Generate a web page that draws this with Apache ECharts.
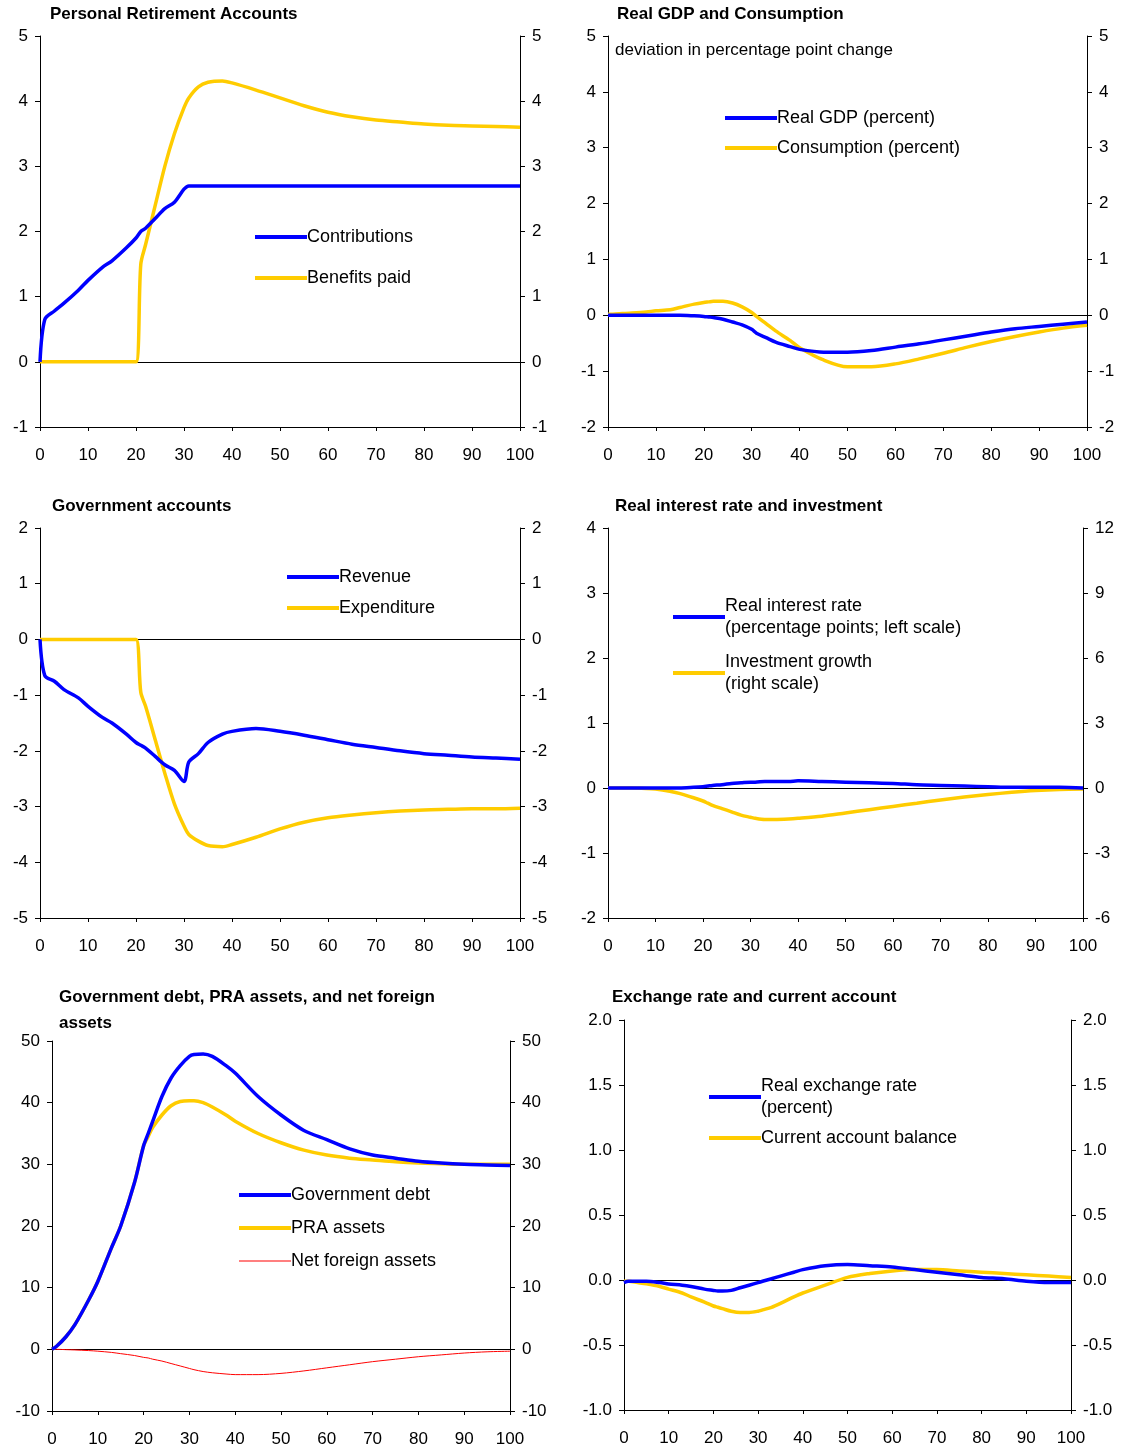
<!doctype html>
<html>
<head>
<meta charset="utf-8">
<title>PRA simulation</title>
<script src="https://cdn.jsdelivr.net/npm/echarts@6/dist/echarts.min.js"></script>
<style>html,body{margin:0;background:#fff}#main{width:1128px;height:1451px}</style>
</head>
<body>
<div id="main"></div>
<script>
var years = [0,1,3,5,8,10,13,15,18,20,21,22,24,26,28,30,31,33,35,38,40,45,50,55,60,65,70,75,80,85,90,95,100];

// Personal Retirement Accounts
var contributions = [0,0.65,0.78,0.9,1.1,1.25,1.45,1.55,1.75,1.9,2.0,2.05,2.2,2.35,2.45,2.65,2.7,2.7,2.7,2.7,2.7,2.7,2.7,2.7,2.7,2.7,2.7,2.7,2.7,2.7,2.7,2.7,2.7];
var benefitsPaid = [0,0,0,0,0,0,0,0,0,0,1.5,1.8,2.4,3.0,3.5,3.9,4.05,4.22,4.29,4.31,4.28,4.17,4.05,3.93,3.83,3.76,3.71,3.68,3.65,3.63,3.62,3.61,3.6];

// Real GDP and Consumption
var realGDP = [0,0,0,0,0,0,0,0,-0.01,-0.02,-0.03,-0.04,-0.07,-0.12,-0.17,-0.25,-0.32,-0.4,-0.48,-0.56,-0.61,-0.66,-0.66,-0.63,-0.57,-0.51,-0.44,-0.37,-0.3,-0.24,-0.2,-0.16,-0.12];
var consumption = [0.02,0.02,0.03,0.04,0.06,0.08,0.1,0.14,0.2,0.23,0.24,0.25,0.25,0.22,0.15,0.05,-0.02,-0.15,-0.28,-0.45,-0.58,-0.8,-0.92,-0.92,-0.87,-0.78,-0.68,-0.57,-0.47,-0.38,-0.3,-0.23,-0.18];

// Government accounts
var revenue = [0,-0.65,-0.75,-0.9,-1.05,-1.2,-1.4,-1.5,-1.7,-1.85,-1.9,-1.95,-2.1,-2.25,-2.35,-2.55,-2.2,-2.05,-1.85,-1.7,-1.65,-1.6,-1.65,-1.72,-1.8,-1.88,-1.94,-2.0,-2.05,-2.08,-2.11,-2.13,-2.15];
var expenditure = [0,0,0,0,0,0,0,0,0,0,-0.95,-1.2,-1.8,-2.4,-2.95,-3.35,-3.5,-3.62,-3.7,-3.72,-3.68,-3.55,-3.4,-3.28,-3.2,-3.15,-3.11,-3.08,-3.06,-3.05,-3.04,-3.04,-3.03];

// Real interest rate and investment
var interestRate = [0,0,0,0,0,0,0,0,0.01,0.02,0.03,0.04,0.05,0.07,0.08,0.09,0.09,0.1,0.1,0.1,0.11,0.1,0.09,0.08,0.07,0.05,0.04,0.03,0.02,0.01,0.01,0.01,0];
var investment = [0,0,0,0,-0.02,-0.05,-0.15,-0.25,-0.45,-0.6,-0.7,-0.8,-0.95,-1.1,-1.25,-1.35,-1.4,-1.45,-1.45,-1.43,-1.4,-1.3,-1.15,-1.0,-0.85,-0.7,-0.55,-0.42,-0.3,-0.2,-0.12,-0.07,-0.05];

// Government debt, PRA assets, net foreign assets
var govDebt = [0,0.5,2,4,8,11,16.5,20,27,33,35,37,41,44,46,47.5,47.8,47.9,47.5,46,44.8,41,38,35.5,34,32.5,31.5,31,30.5,30.2,30,29.9,29.8];
var praAssets = [0,0.5,2,4,8,11,16.5,20,27,33,34.5,36,38,39.5,40.2,40.3,40.3,40,39.3,38,37,35,33.5,32.3,31.5,31,30.7,30.4,30.2,30.1,30,30,30];
var netForeign = [0,0,-0.05,-0.1,-0.2,-0.3,-0.5,-0.7,-1.0,-1.3,-1.4,-1.6,-1.9,-2.3,-2.7,-3.1,-3.3,-3.6,-3.8,-4.0,-4.1,-4.1,-3.9,-3.5,-3.0,-2.5,-2.0,-1.6,-1.2,-0.9,-0.6,-0.4,-0.3];

// Exchange rate and current account
var exchangeRate = [-0.02,-0.01,-0.01,-0.01,-0.02,-0.03,-0.04,-0.05,-0.07,-0.08,-0.085,-0.085,-0.08,-0.06,-0.04,-0.02,-0.01,0.01,0.03,0.06,0.08,0.11,0.12,0.11,0.1,0.08,0.06,0.04,0.02,0.01,-0.01,-0.02,-0.02];
var currentAccount = [-0.01,-0.01,-0.02,-0.03,-0.05,-0.07,-0.1,-0.13,-0.17,-0.2,-0.21,-0.22,-0.24,-0.25,-0.25,-0.24,-0.23,-0.21,-0.18,-0.13,-0.1,-0.04,0.02,0.05,0.07,0.08,0.08,0.07,0.06,0.05,0.04,0.03,0.02];

var BLUE = '#0000ff', GOLD = '#ffcc00', RED = '#ff0000';
var font = 'Liberation Sans, Arial, sans-serif';
var THICK = 'rect', THIN = 'path://M0,0h50v1h-50z';

function pairs(v) { return years.map(function (x, i) { return [x, v[i]]; }); }

var panels = [
  {title: 'Personal Retirement Accounts', tl: 50, tt: 4, g: [40, 36, 520, 427], min: -1, max: 5, iv: 1,
   series: [['Contributions', contributions, BLUE, 3.5], ['Benefits paid', benefitsPaid, GOLD, 3.5]], leg: [250, 221, 19]},
  {title: 'Real GDP and Consumption', tl: 617, tt: 4, g: [608, 36, 1087, 427], min: -2, max: 5, iv: 1,
   series: [['Real GDP (percent)', realGDP, BLUE, 3.5], ['Consumption (percent)', consumption, GOLD, 3.5]], leg: [720, 102, 8]},
  {title: 'Government accounts', tl: 52, tt: 496, g: [40, 528, 520, 918], min: -5, max: 2, iv: 1,
   series: [['Revenue', revenue, BLUE, 3.5], ['Expenditure', expenditure, GOLD, 3.5]], leg: [282, 561, 9]},
  {title: 'Real interest rate and investment', tl: 615, tt: 496, g: [608, 528, 1083, 918], min: -2, max: 4, iv: 1,
   rmin: -6, rmax: 12, riv: 3,
   series: [['Real interest rate\n(percentage points; left scale)', interestRate, BLUE, 3.5],
            ['Investment growth\n(right scale)', investment, GOLD, 3.5, true]], leg: [668, 590, 12]},
  {title: 'Government debt, PRA assets, and net foreign\nassets', tl: 59, tt: 984, g: [52, 1041, 510, 1411], min: -10, max: 50, iv: 10,
   series: [['Government debt', govDebt, BLUE, 3.5], ['PRA assets', praAssets, GOLD, 3.5], ['Net foreign assets', netForeign, RED, 1, false, THIN]], leg: [234, 1179, 11]},
  {title: 'Exchange rate and current account', tl: 612, tt: 987, g: [624, 1020, 1071, 1410], min: -1, max: 2, iv: 0.5, dec: 1,
   series: [['Real exchange rate\n(percent)', exchangeRate, BLUE, 3.5], ['Current account balance', currentAccount, GOLD, 3.5]], leg: [704, 1070, 8]}
];

var option = {animation: false, textStyle: {fontFamily: font}, title: [], grid: [], xAxis: [], yAxis: [], series: [], legend: [],
  graphic: [{type: 'text', left: 615, top: 42, style: {text: 'deviation in percentage point change', font: '17px ' + font, fill: '#000'}}]};

panels.forEach(function (p, k) {
  option.title.push({text: p.title, left: p.tl, top: p.tt, padding: 0,
    textStyle: {fontSize: 17, fontWeight: 'bold', color: '#000', lineHeight: p.title.indexOf('\n') > 0 ? 26 : 20}});
  option.grid.push({left: p.g[0], top: p.g[1], width: p.g[2] - p.g[0], height: p.g[3] - p.g[1]});
  option.xAxis.push({type: 'value', gridIndex: k, min: 0, max: 100, interval: 10,
    axisLine: {onZero: false, lineStyle: {color: '#000'}}, axisTick: {length: 4, lineStyle: {color: '#000'}},
    axisLabel: {color: '#000', fontSize: 17, margin: 20}, splitLine: {show: false}});
  var fmt = function (v) { return p.dec ? v.toFixed(1) : String(v); };
  var yl = {type: 'value', gridIndex: k, min: p.min, max: p.max, interval: p.iv,
    axisLine: {show: true, lineStyle: {color: '#000'}}, axisTick: {show: true, length: 5, lineStyle: {color: '#000'}},
    axisLabel: {color: '#000', fontSize: 17, formatter: fmt, margin: 12}, splitLine: {show: false}};
  option.yAxis.push(yl);
  var yr = JSON.parse(JSON.stringify(yl));
  yr.position = 'right';
  yr.axisLabel.formatter = fmt;
  if (p.rmin !== undefined) { yr.min = p.rmin; yr.max = p.rmax; yr.interval = p.riv; }
  option.yAxis.push(yr);
  var names = [];
  p.series.forEach(function (s, j) {
    names.push({name: s[0], icon: s[5] || THICK});
    var ser = {name: s[0], type: 'line', xAxisIndex: k, yAxisIndex: s[4] ? 2 * k + 1 : 2 * k,
      data: pairs(s[1]), showSymbol: false, smooth: 0.3, z: 10 - j,
      lineStyle: {color: s[2], width: s[3]}, itemStyle: {color: s[2]}};
    if (j === 0) {
      ser.markLine = {silent: true, symbol: 'none', label: {show: false}, animation: false,
        lineStyle: {color: '#000', width: 1, type: 'solid'}, data: [{yAxis: 0}]};
    }
    option.series.push(ser);
  });
  option.legend.push({data: names, orient: 'vertical', left: p.leg[0], top: p.leg[1], itemGap: p.leg[2],
    itemWidth: 52, itemHeight: 4, selectedMode: false,
    textStyle: {fontSize: 18, color: '#000', lineHeight: 22, padding: [0, 0, 0, -5]}});
});

var chart = echarts.init(document.getElementById('main'));
chart.setOption(option);
</script>
</body>
</html>
